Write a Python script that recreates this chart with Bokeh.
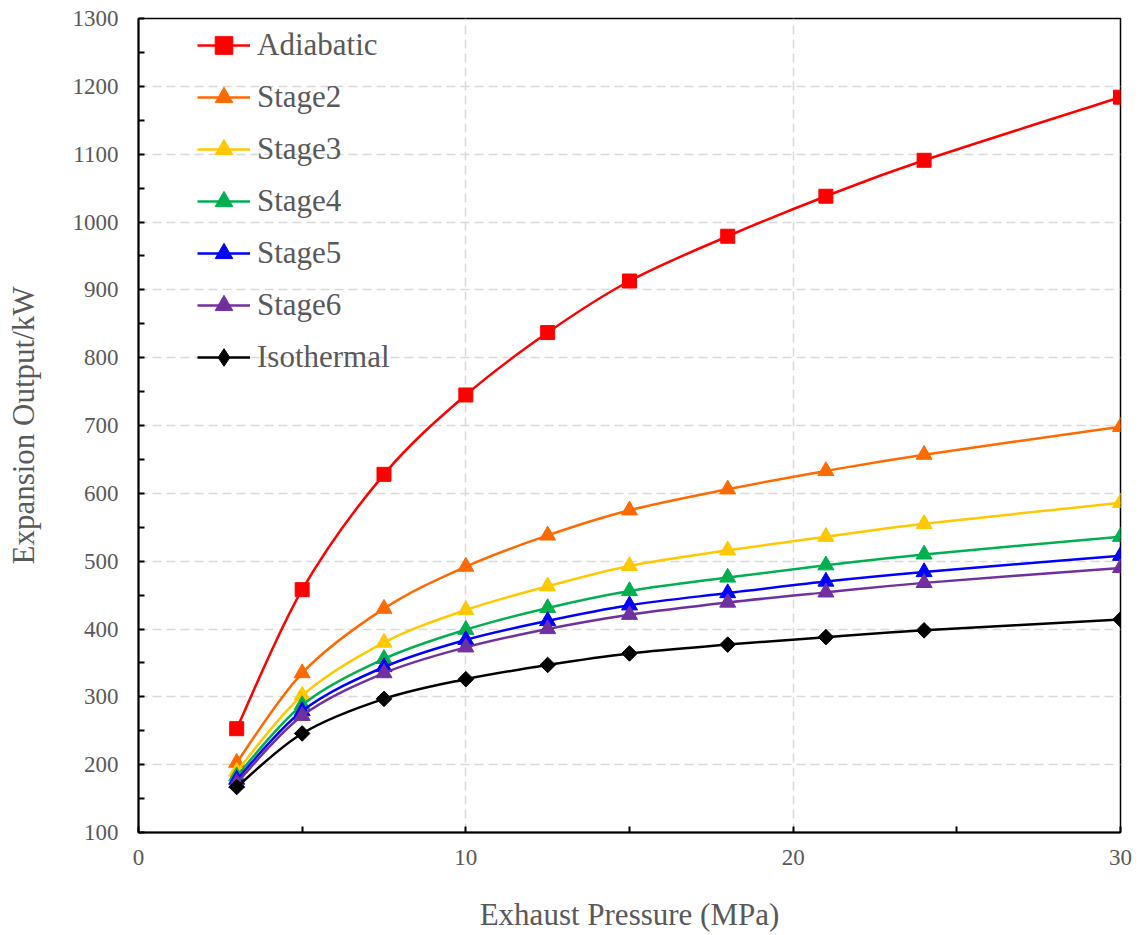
import numpy as np
from bokeh.plotting import figure
from bokeh.models import FixedTicker, Legend, LegendItem, ColumnDataSource
from bokeh.embed import file_html
from bokeh.resources import INLINE

pressure = [3, 5, 7.5, 10, 12.5, 15, 18, 21, 24, 30]
adiabatic = [253, 458, 628, 745, 837, 913, 979, 1038, 1091, 1184]
stage2 = [203, 335, 430, 492, 538, 575, 606, 633, 657, 698]
stage3 = [190, 302, 380, 428, 463, 493, 516, 536, 555, 586]
stage4 = [183, 288, 356, 399, 431, 456, 476, 494, 510, 536]
stage5 = [178, 279, 344, 384, 412, 435, 453, 470, 484, 508]
stage6 = [173, 272, 335, 373, 400, 421, 439, 454, 468, 490]
isothermal = [167, 246, 297, 326, 347, 364, 377, 388, 398, 414]

series = [
    ("Adiabatic", adiabatic, "#FF0000", "square"),
    ("Stage2", stage2, "#FF6A00", "triangle"),
    ("Stage3", stage3, "#FFC800", "triangle"),
    ("Stage4", stage4, "#00B050", "triangle"),
    ("Stage5", stage5, "#0000FF", "triangle"),
    ("Stage6", stage6, "#7030A0", "triangle"),
    ("Isothermal", isothermal, "#000000", "diamond"),
]

FONT = "'Liberation Serif'"
GRAY = "#595959"

p = figure(width=1143, height=935, x_range=(0, 30), y_range=(100, 1300),
           output_backend="svg", toolbar_location=None,
           min_border_left=138, min_border_right=23, min_border_top=18, min_border_bottom=103)

p.outline_line_color = "black"
p.outline_line_width = 1.5
p.background_fill_color = "white"

p.xaxis.ticker = FixedTicker(ticks=[0, 10, 20, 30], minor_ticks=[5, 15, 25])
p.yaxis.ticker = FixedTicker(ticks=list(range(100, 1400, 100)), minor_ticks=list(range(150, 1300, 100)))

for ax in (p.xaxis, p.yaxis):
    ax.axis_line_width = 2
    ax.axis_line_color = "black"
    ax.major_tick_in = 6
    ax.major_tick_out = 0
    ax.minor_tick_in = 6
    ax.minor_tick_out = 0
    ax.major_tick_line_width = 2
    ax.minor_tick_line_width = 2
    ax.major_label_text_font = FONT
    ax.major_label_text_font_size = "23px"
    ax.major_label_text_color = GRAY
    ax.axis_label_text_font = FONT
    ax.axis_label_text_font_size = "31px"
    ax.axis_label_text_color = GRAY
    ax.axis_label_text_font_style = "normal"

p.xaxis.axis_label = "Exhaust Pressure (MPa)"
p.yaxis.axis_label = "Expansion Output/kW"
p.xaxis.major_label_standoff = 17
p.xaxis.axis_label_standoff = 29
p.yaxis.major_label_standoff = 20
p.yaxis.axis_label_standoff = 29

p.xgrid.ticker = FixedTicker(ticks=[10, 20])
for g in (p.xgrid, p.ygrid):
    g.grid_line_color = "#D9D9D9"
    g.grid_line_dash = "9 5"
    g.grid_line_width = 1.5

items = []
for name, vals, color, marker in series:
    x = np.array(pressure, dtype=float)
    y = np.array(vals, dtype=float)
    n = len(x)
    # Catmull-Rom smoothing expressed as cubic Bezier segments
    xp = np.concatenate([[x[0]], x, [x[-1]]])
    yp = np.concatenate([[y[0]], y, [y[-1]]])
    i = np.arange(n - 1)
    cx0 = x[i] + (xp[i + 2] - xp[i]) / 6.0
    cy0 = y[i] + (yp[i + 2] - yp[i]) / 6.0
    cx1 = x[i + 1] - (xp[i + 3] - xp[i + 1]) / 6.0
    cy1 = y[i + 1] - (yp[i + 3] - yp[i + 1]) / 6.0
    src = ColumnDataSource(dict(x0=x[:-1], y0=y[:-1], x1=x[1:], y1=y[1:],
                                cx0=cx0, cy0=cy0, cx1=cx1, cy1=cy1))
    br = p.bezier(x0="x0", y0="y0", x1="x1", y1="y1", cx0="cx0", cy0="cy0",
                  cx1="cx1", cy1="cy1", source=src, line_color=color, line_width=2.5)
    if marker == "square":
        sr = p.scatter(x, y, marker="square", size=14, fill_color=color, line_color=color)
        leg = [br, sr]
    elif marker == "diamond":
        sr = p.scatter(x, y, marker="square", size=11, angle=np.pi / 4,
                       fill_color=color, line_color=color)
        lr = p.scatter(x=[np.nan], y=[np.nan], marker="diamond", size=17,
                       fill_color=color, line_color=color)
        leg = [br, lr]
    else:
        sr = p.scatter(x, y, marker="triangle", size=16, fill_color=color, line_color=color)
        leg = [br, sr]
    items.append(LegendItem(label=name, renderers=leg))

legend = Legend(items=items, location=(54, 448), orientation="vertical",
                glyph_width=53, glyph_height=44, label_height=44, spacing=8,
                padding=5, margin=0, label_standoff=7,
                label_text_font=FONT, label_text_font_size="31px", label_text_color=GRAY,
                border_line_alpha=0, background_fill_alpha=0)
p.add_layout(legend)

open("out.html", "w").write(file_html(p, INLINE))
